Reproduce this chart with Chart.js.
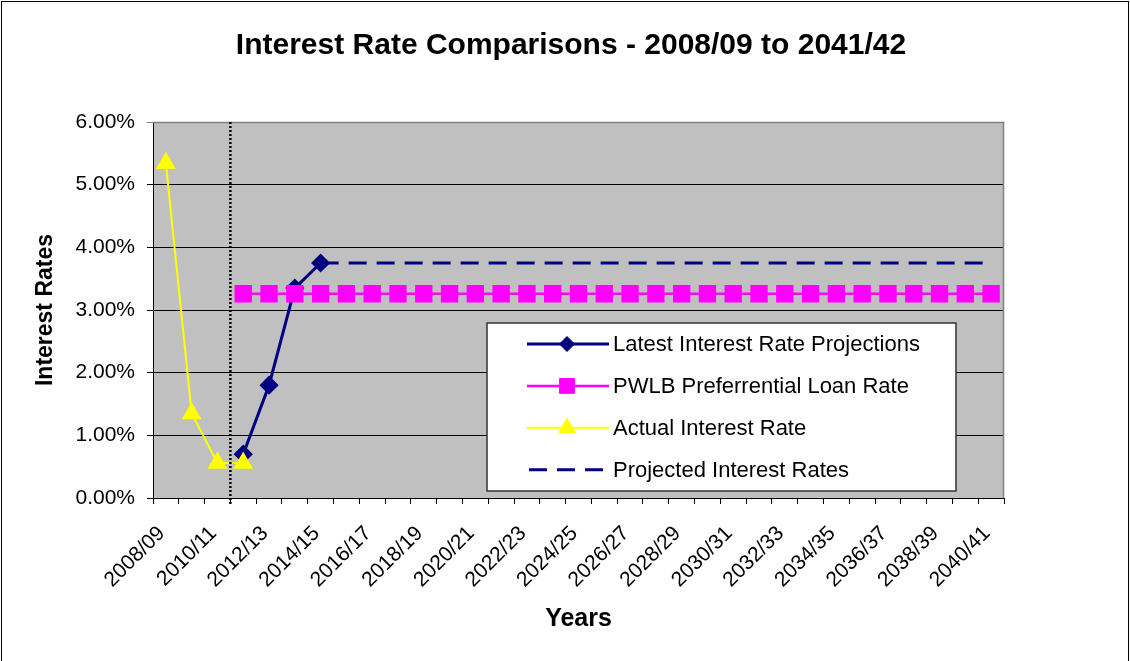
<!DOCTYPE html>
<html>
<head>
    <meta charset="UTF-8">
    <title>Interest Rate Comparisons</title>
    <script src="https://cdn.jsdelivr.net/npm/chart.js@4.4.1/dist/chart.umd.min.js"></script>
    <style>
        body { margin: 0; background: #fff; }
        #wrap { width: 1130px; height: 661px; }
    </style>
</head>
<body>
    <div id="wrap">
        <canvas id="chart" width="1130" height="661"></canvas>
    </div>

    <script>
        // Financial years on the x axis
        var years = ['2008/09', '2009/10', '2010/11', '2011/12', '2012/13', '2013/14', '2014/15',
            '2015/16', '2016/17', '2017/18', '2018/19', '2019/20', '2020/21', '2021/22',
            '2022/23', '2023/24', '2024/25', '2025/26', '2026/27', '2027/28', '2028/29',
            '2029/30', '2030/31', '2031/32', '2032/33', '2033/34', '2034/35', '2035/36',
            '2036/37', '2037/38', '2038/39', '2039/40', '2040/41'];

        // Rates in percent
        var latestProjections = [null, null, null, 0.70, 1.80, 3.35, 3.75, null, null, null,
            null, null, null, null, null, null, null, null, null, null, null, null, null, null,
            null, null, null, null, null, null, null, null, null];
        var pwlbRate = [null, null, null, 3.26, 3.26, 3.26, 3.26, 3.26, 3.26, 3.26, 3.26, 3.26,
            3.26, 3.26, 3.26, 3.26, 3.26, 3.26, 3.26, 3.26, 3.26, 3.26, 3.26, 3.26, 3.26, 3.26,
            3.26, 3.26, 3.26, 3.26, 3.26, 3.26, 3.26];
        var actualRate = [5.34, 1.35, 0.56, 0.56, null, null, null, null, null, null, null, null,
            null, null, null, null, null, null, null, null, null, null, null, null, null, null,
            null, null, null, null, null, null, null];
        var projectedRates = [null, null, null, null, null, null, 3.75, 3.75, 3.75, 3.75, 3.75,
            3.75, 3.75, 3.75, 3.75, 3.75, 3.75, 3.75, 3.75, 3.75, 3.75, 3.75, 3.75, 3.75, 3.75,
            3.75, 3.75, 3.75, 3.75, 3.75, 3.75, 3.75, 3.75];

        // Dotted divider sits between these two years
        var dividerBetween = ['2010/11', '2011/12'];

        var FONT = "'Liberation Sans', Arial, sans-serif";

        // Grey plot area, page border, divider, boxed legend
        var excelLook = {
            id: 'excelLook',
            beforeDraw: function(chart) {
                var ctx = chart.ctx, a = chart.chartArea;
                ctx.save();
                ctx.fillStyle = '#fff';
                ctx.fillRect(0, 0, chart.width, chart.height);
                ctx.fillStyle = '#C0C0C0';
                ctx.fillRect(a.left, a.top, a.right - a.left, a.bottom - a.top);
                ctx.restore();
            },
            afterDraw: function(chart) {
                var ctx = chart.ctx, a = chart.chartArea;
                var x = chart.scales.x;
                ctx.save();

                // grey frame top / right of the plot
                ctx.strokeStyle = '#808080';
                ctx.lineWidth = 1.5;
                ctx.beginPath();
                ctx.moveTo(a.left, a.top + 0.5);
                ctx.lineTo(a.right - 0.5, a.top + 0.5);
                ctx.lineTo(a.right - 0.5, a.bottom);
                ctx.stroke();

                // dotted divider
                var dx = (x.getPixelForValue(years.indexOf(dividerBetween[0])) +
                          x.getPixelForValue(years.indexOf(dividerBetween[1]))) / 2;
                ctx.strokeStyle = '#000';
                ctx.lineWidth = 2.5;
                ctx.setLineDash([2, 2]);
                ctx.beginPath();
                ctx.moveTo(dx, a.top);
                ctx.lineTo(dx, a.bottom + 7);
                ctx.stroke();
                ctx.setLineDash([]);

                // legend box
                var lx = a.left + 334, ly = a.top + 201, lw = 469, lh = 168;
                ctx.fillStyle = '#fff';
                ctx.fillRect(lx, ly, lw, lh);
                ctx.strokeStyle = '#333';
                ctx.lineWidth = 1.5;
                ctx.strokeRect(lx, ly, lw, lh);

                ctx.font = '22px ' + FONT;
                ctx.textBaseline = 'middle';
                ctx.textAlign = 'left';
                chart.data.datasets.forEach(function(ds, i) {
                    var cy = ly + 21 + i * 41.9;
                    ctx.strokeStyle = ds.borderColor;
                    ctx.lineWidth = ds.borderWidth;
                    ctx.beginPath();
                    if (ds.borderDash) {
                        ctx.setLineDash(ds.borderDash);
                        ctx.moveTo(lx + 42, cy);
                    } else {
                        ctx.moveTo(lx + 40, cy);
                    }
                    ctx.lineTo(lx + 122, cy);
                    ctx.stroke();
                    ctx.setLineDash([]);
                    if (ds.pointRadius > 0) {
                        ctx.fillStyle = ds.pointBackgroundColor;
                        ctx.strokeStyle = ds.pointBorderColor;
                        ctx.lineWidth = 1;
                        Chart.helpers.drawPoint(ctx, {
                            pointStyle: ds.pointStyle,
                            radius: ds.pointRadius,
                            rotation: 0,
                            borderWidth: 1
                        }, lx + 80, cy);
                    }
                    ctx.fillStyle = '#000';
                    ctx.fillText(ds.label, lx + 126, cy + 1);
                });

                // outer frame of the picture
                ctx.strokeStyle = '#000';
                ctx.lineWidth = 1;
                ctx.strokeRect(1.5, 1.5, chart.width - 3, chart.height + 5);
                ctx.restore();
            }
        };

        var ctx = document.getElementById('chart').getContext('2d');
        var myChart = new Chart(ctx, {
            type: 'line',
            data: {
                labels: years,
                datasets: [{
                    label: 'Latest Interest Rate Projections',
                    data: latestProjections,
                    borderColor: '#000080',
                    backgroundColor: '#000080',
                    pointBackgroundColor: '#000080',
                    pointBorderColor: '#000080',
                    borderWidth: 3,
                    pointStyle: 'rectRot',
                    pointRadius: 7.5,
                    order: 4
                }, {
                    label: 'PWLB Preferrential Loan Rate',
                    data: pwlbRate,
                    borderColor: '#FF00FF',
                    backgroundColor: '#FF00FF',
                    pointBackgroundColor: '#FF00FF',
                    pointBorderColor: '#FF00FF',
                    borderWidth: 2.5,
                    pointStyle: 'rect',
                    pointRadius: 10.5,
                    order: 3
                }, {
                    label: 'Actual Interest Rate',
                    data: actualRate,
                    borderColor: '#FFFF00',
                    backgroundColor: '#FFFF00',
                    pointBackgroundColor: '#FFFF00',
                    pointBorderColor: '#FFFF00',
                    borderWidth: 2,
                    pointStyle: 'triangle',
                    pointRadius: 9.5,
                    order: 2
                }, {
                    label: 'Projected Interest Rates',
                    data: projectedRates,
                    borderColor: '#000080',
                    backgroundColor: '#000080',
                    borderWidth: 3,
                    borderDash: [18, 10],
                    pointRadius: 0,
                    order: 1
                }]
            },
            options: {
                responsive: false,
                animation: false,
                layout: { padding: { top: 0, left: 12, right: 0, bottom: 0 } },
                plugins: {
                    legend: { display: false },
                    tooltip: { enabled: false },
                    title: {
                        display: true,
                        text: 'Interest Rate Comparisons - 2008/09 to 2041/42',
                        color: '#000',
                        font: { family: FONT, size: 30, weight: 'bold' },
                        padding: { top: 28, bottom: 58 }
                    }
                },
                scales: {
                    x: {
                        offset: true,
                        afterFit: function(scale) { scale.height = 163; },
                        grid: {
                            offset: true,
                            drawOnChartArea: false,
                            tickLength: 6,
                            color: '#000'
                        },
                        border: { color: '#000', width: 1 },
                        ticks: {
                            autoSkip: false,
                            maxRotation: 45,
                            minRotation: 45,
                            padding: 13,
                            color: '#000',
                            font: { family: FONT, size: 21 },
                            callback: function(value, index) {
                                return index % 2 === 0 ? this.getLabelForValue(value) + ' ' : '';
                            }
                        },
                        title: {
                            display: true,
                            text: 'Years',
                            color: '#000',
                            font: { family: FONT, size: 25, weight: 'bold' },
                            padding: { top: 0, bottom: 27 }
                        }
                    },
                    y: {
                        min: 0,
                        max: 6,
                        afterFit: function(scale) { scale.width = 141; },
                        grid: {
                            tickLength: 6,
                            color: function(c) { return c.tick && c.tick.value === 6 ? '#808080' : '#000'; }
                        },
                        border: { color: '#000', width: 1 },
                        ticks: {
                            stepSize: 1,
                            padding: 12,
                            color: '#000',
                            font: { family: FONT, size: 21 },
                            callback: function(v) { return v.toFixed(2) + '%'; }
                        },
                        title: {
                            display: true,
                            text: 'Interest Rates',
                            color: '#000',
                            font: { family: FONT, size: 23, weight: 'bold' },
                            padding: { top: 20, bottom: 0 }
                        }
                    },
                    // empty right-hand space, keeps the plot where the original has it
                    spacer: {
                        type: 'linear',
                        position: 'right',
                        afterFit: function(scale) { scale.width = 126; },
                        grid: { display: false },
                        border: { display: false },
                        ticks: { display: false }
                    }
                }
            },
            plugins: [excelLook]
        });
    </script>
</body>
</html>
